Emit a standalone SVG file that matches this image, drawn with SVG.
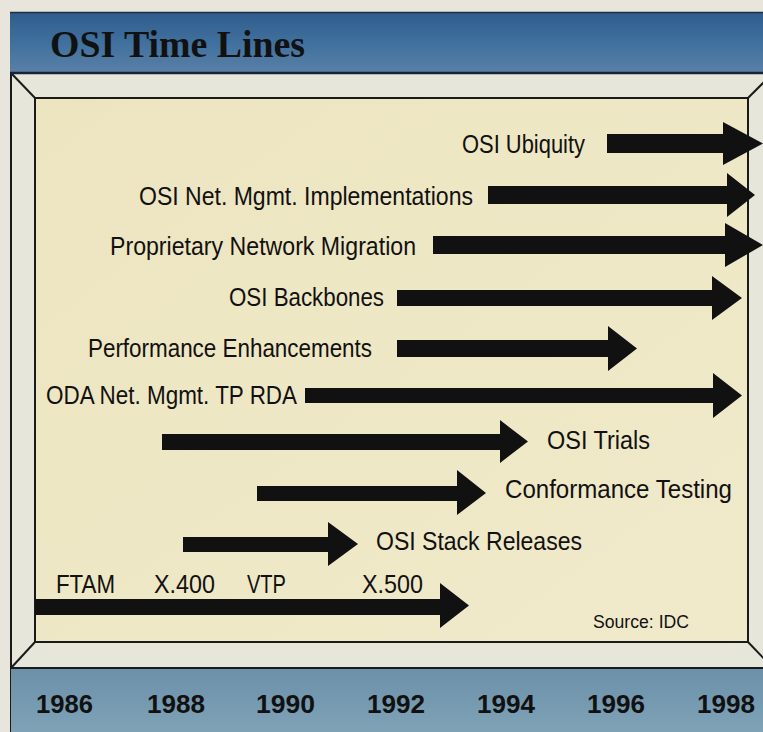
<svg xmlns="http://www.w3.org/2000/svg" width="763" height="732" viewBox="0 0 763 732">
  <defs>
    <linearGradient id="hdr" x1="0" y1="0" x2="0" y2="1">
      <stop offset="0" stop-color="#2f5c8c"/>
      <stop offset="0.5" stop-color="#40709e"/>
      <stop offset="1" stop-color="#5a80a6"/>
    </linearGradient>
    <linearGradient id="band" x1="0" y1="0" x2="0" y2="1">
      <stop offset="0" stop-color="#6b90a9"/>
      <stop offset="1" stop-color="#7fa2b6"/>
    </linearGradient>
    <linearGradient id="panel" x1="0" y1="0" x2="1" y2="1">
      <stop offset="0" stop-color="#ede5c0"/>
      <stop offset="1" stop-color="#f0eacb"/>
    </linearGradient>
  </defs>
  <style>
    .lbl { font-family: "Liberation Sans", Arial, sans-serif; font-size: 26px; fill: #111; }
    .yr { font-family: "Liberation Sans", Arial, sans-serif; font-size: 26px; font-weight: bold; fill: #111; }
    .src { font-family: "Liberation Sans", Arial, sans-serif; font-size: 17.5px; fill: #111; }
    .ttl { font-family: "Liberation Serif", "Times New Roman", serif; font-size: 37px; font-weight: bold; fill: #111; }
    .arrow { fill: #111; }
    .edge { stroke: #1a1a1a; stroke-width: 2; fill: none; }
  </style>

  <!-- background & frame -->
  <rect x="0" y="0" width="763" height="732" fill="#e7e5dc"/>
  <g id="frame">
    <rect x="11" y="73" width="760" height="595" fill="#e7e6da"/>
    <rect x="35" y="98" width="713" height="544" fill="url(#panel)"/>
    <rect x="35" y="98" width="713" height="544" class="edge"/>
    <line x1="11" y1="73" x2="35" y2="98" class="edge"/>
    <line x1="748" y1="98" x2="773" y2="73" class="edge"/>
    <line x1="35" y1="642" x2="11" y2="668" class="edge"/>
    <line x1="748" y1="642" x2="773" y2="668" class="edge"/>
    <line x1="11" y1="73" x2="11" y2="732" class="edge"/>
  </g>

  <!-- header -->
  <g id="header">
    <rect x="10" y="12" width="760" height="61" fill="url(#hdr)"/>
    <line x1="10" y1="12.5" x2="763" y2="12.5" stroke="#1c2f45" stroke-width="1.5"/>
    <line x1="10" y1="73" x2="763" y2="73" stroke="#142538" stroke-width="2.5"/>
    <text x="50" y="57" class="ttl" textLength="255" lengthAdjust="spacingAndGlyphs">OSI Time Lines</text>
  </g>

  <!-- year band -->
  <g id="years">
    <rect x="11" y="668" width="752" height="64" fill="url(#band)"/>
    <line x1="11" y1="668" x2="763" y2="668" stroke="#1a1a1a" stroke-width="2"/>
    <text x="36" y="713" class="yr" textLength="57" lengthAdjust="spacingAndGlyphs">1986</text>
    <text x="147" y="713" class="yr" textLength="58" lengthAdjust="spacingAndGlyphs">1988</text>
    <text x="256" y="713" class="yr" textLength="59" lengthAdjust="spacingAndGlyphs">1990</text>
    <text x="367" y="713" class="yr" textLength="58" lengthAdjust="spacingAndGlyphs">1992</text>
    <text x="477" y="713" class="yr" textLength="58" lengthAdjust="spacingAndGlyphs">1994</text>
    <text x="587" y="713" class="yr" textLength="58" lengthAdjust="spacingAndGlyphs">1996</text>
    <text x="697" y="713" class="yr" textLength="58" lengthAdjust="spacingAndGlyphs">1998</text>
  </g>

  <!-- labels -->
  <g id="row-ubiquity"><text x="462" y="153" class="lbl" textLength="123" lengthAdjust="spacingAndGlyphs">OSI Ubiquity</text></g>
  <g id="row-netmgmt"><text x="139" y="205" class="lbl" textLength="334" lengthAdjust="spacingAndGlyphs">OSI Net. Mgmt. Implementations</text></g>
  <g id="row-proprietary"><text x="110" y="255" class="lbl" textLength="306" lengthAdjust="spacingAndGlyphs">Proprietary Network Migration</text></g>
  <g id="row-backbones"><text x="229" y="306" class="lbl" textLength="155" lengthAdjust="spacingAndGlyphs">OSI Backbones</text></g>
  <g id="row-performance"><text x="88" y="357" class="lbl" textLength="284" lengthAdjust="spacingAndGlyphs">Performance Enhancements</text></g>
  <g id="row-oda"><text x="46" y="404" class="lbl" textLength="251" lengthAdjust="spacingAndGlyphs">ODA Net. Mgmt. TP RDA</text></g>
  <g id="row-trials"><text x="547" y="449" class="lbl" textLength="103" lengthAdjust="spacingAndGlyphs">OSI Trials</text></g>
  <g id="row-conformance"><text x="505" y="498" class="lbl" textLength="227" lengthAdjust="spacingAndGlyphs">Conformance Testing</text></g>
  <g id="row-stack"><text x="376" y="550" class="lbl" textLength="206" lengthAdjust="spacingAndGlyphs">OSI Stack Releases</text></g>
  <g id="row-protocols">
    <text x="56" y="593" class="lbl" textLength="59" lengthAdjust="spacingAndGlyphs">FTAM</text>
    <text x="154" y="593" class="lbl" textLength="61" lengthAdjust="spacingAndGlyphs">X.400</text>
    <text x="247" y="593" class="lbl" textLength="39" lengthAdjust="spacingAndGlyphs">VTP</text>
    <text x="362" y="593" class="lbl" textLength="61" lengthAdjust="spacingAndGlyphs">X.500</text>
  </g>
  <g id="source"><text x="593" y="628" class="src" textLength="96" lengthAdjust="spacingAndGlyphs">Source: IDC</text></g>

  <!-- connectors (timeline arrows) -->
  <g id="arrows" class="arrow">
    <polygon points="607,134 723,134 723,122 763,143.5 723,165 723,153 607,153"/>
    <polygon points="488,186 727,186 727,173 755,195 727,217 727,204 488,204"/>
    <polygon points="433,236 725,236 725,223 763,245 725,267 725,254 433,254"/>
    <polygon points="397,290 712,290 712,276 742,298 712,320 712,306 397,306"/>
    <polygon points="397,340 608,340 608,326 637,348.5 608,371 608,357 397,357"/>
    <polygon points="305,388 713,388 713,373 742,395.5 713,418 713,403 305,403"/>
    <polygon points="162,434 500,434 500,420 528,441.5 500,463 500,450 162,450"/>
    <polygon points="257,486 457,486 457,470 486,493 457,515 457,501 257,501"/>
    <polygon points="183,537 328,537 328,522 358,544 328,566 328,552 183,552"/>
    <polygon points="35,599 440,599 440,583 469,605.5 440,628 440,615 35,615"/>
  </g>
</svg>
